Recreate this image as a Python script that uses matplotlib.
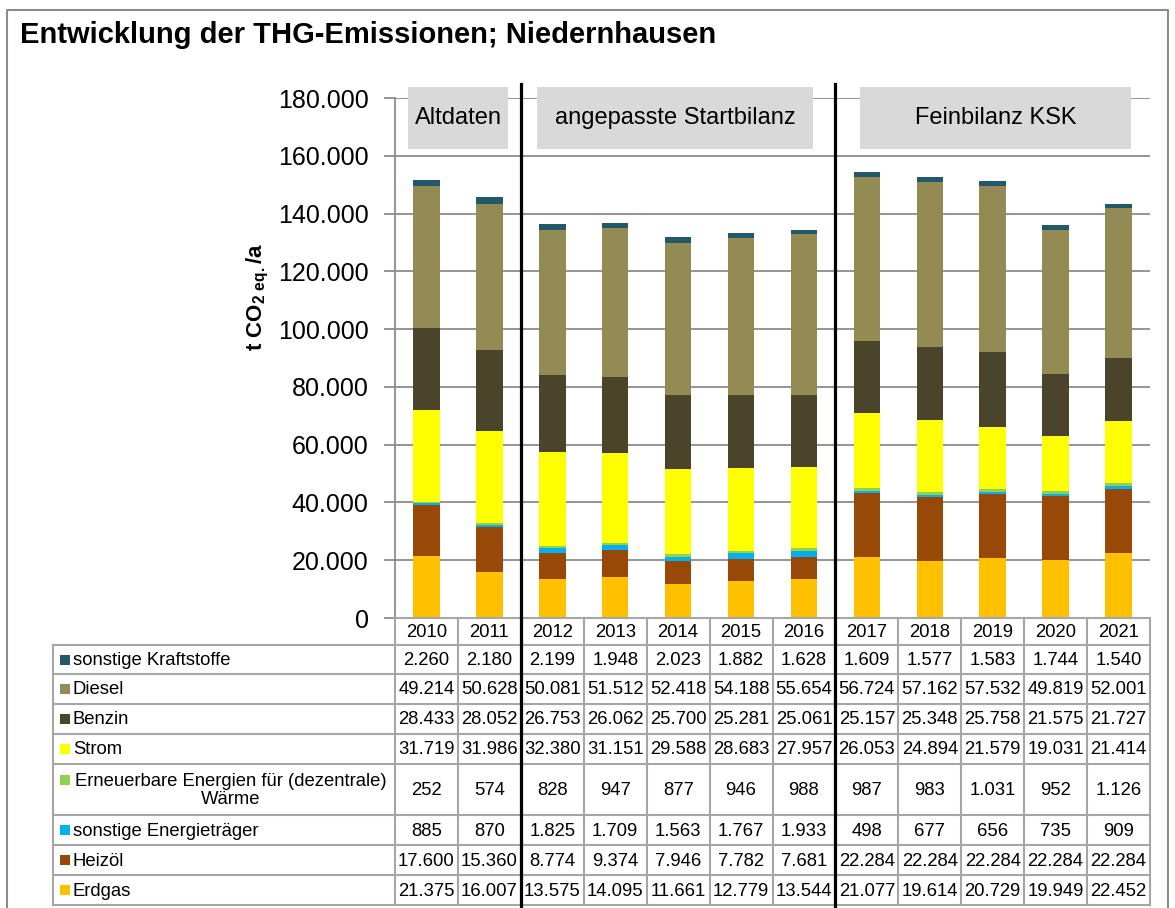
import numpy as np
import matplotlib
matplotlib.use("Agg")
import matplotlib.pyplot as plt
from matplotlib.patches import Rectangle

plt.rcParams['font.family'] = ['Liberation Sans', 'DejaVu Sans']
plt.rcParams['mathtext.fontset'] = 'custom'
plt.rcParams['mathtext.rm'] = 'Liberation Sans'
plt.rcParams['mathtext.bf'] = 'Liberation Sans:bold'

# data (t CO2eq per year), stacking order bottom -> top
years = [2010, 2011, 2012, 2013, 2014, 2015, 2016, 2017, 2018, 2019, 2020, 2021]
erdgas = [21375, 16007, 13575, 14095, 11661, 12779, 13544, 21077, 19614, 20729, 19949, 22452]
heizoel = [17600, 15360, 8774, 9374, 7946, 7782, 7681, 22284, 22284, 22284, 22284, 22284]
sonst_et = [885, 870, 1825, 1709, 1563, 1767, 1933, 498, 677, 656, 735, 909]
ee_waerme = [252, 574, 828, 947, 877, 946, 988, 987, 983, 1031, 952, 1126]
strom = [31719, 31986, 32380, 31151, 29588, 28683, 27957, 26053, 24894, 21579, 19031, 21414]
benzin = [28433, 28052, 26753, 26062, 25700, 25281, 25061, 25157, 25348, 25758, 21575, 21727]
diesel = [49214, 50628, 50081, 51512, 52418, 54188, 55654, 56724, 57162, 57532, 49819, 52001]
sonst_kraft = [2260, 2180, 2199, 1948, 2023, 1882, 1628, 1609, 1577, 1583, 1744, 1540]

series = [
    ("Erdgas", erdgas, "#FFC000"),
    ("Heizöl", heizoel, "#984807"),
    ("sonstige Energieträger", sonst_et, "#00B0F0"),
    ("Erneuerbare Energien für (dezentrale)\nWärme", ee_waerme, "#92D050"),
    ("Strom", strom, "#FFFF00"),
    ("Benzin", benzin, "#4A452A"),
    ("Diesel", diesel, "#948A54"),
    ("sonstige Kraftstoffe", sonst_kraft, "#215968"),
]

periods = ["Altdaten", "angepasste Startbilanz", "Feinbilanz KSK"]
breaks = [1.5, 6.5]

def de(v):
    return f"{v:,}".replace(",", ".")

W, H = 1175, 908
fig = plt.figure(figsize=(W / 100, H / 100), dpi=100)

# main chart area (pixel layout)
x0, x1 = 395, 1150
ytop, ybot = 98, 618
colw = (x1 - x0) / len(years)
ax = fig.add_axes([x0 / W, (H - ybot) / H, (x1 - x0) / W, (ybot - ytop) / H])

grid = "#8C8C8C"
x = np.arange(len(years))
bottom = np.zeros(len(years))
for name, vals, col in series:
    ax.bar(x, vals, width=0.42, bottom=bottom, color=col, zorder=3)
    bottom += np.array(vals)

ax.set_xlim(-0.5, len(years) - 0.5)
ax.set_ylim(0, 180000)
ax.set_yticks(np.arange(0, 180001, 20000))
ax.set_yticklabels([de(v) for v in range(0, 180001, 20000)])
ax.set_xticks([])
ax.tick_params(axis='y', length=8, color=grid, width=1.3, labelsize=18, pad=11)
ax.yaxis.grid(True, color=grid, lw=1.3, zorder=0)
for s in ["top", "right"]:
    ax.spines[s].set_visible(False)
for s in ["left", "bottom"]:
    ax.spines[s].set_color(grid)
    ax.spines[s].set_linewidth(1.3)

# overlay in pixel coords for frame, title, boxes and table
ov = fig.add_axes([0, 0, 1, 1], zorder=5)
ov.set_xlim(0, W)
ov.set_ylim(H, 0)
ov.axis('off')
ov.patch.set_alpha(0)

frame = "#8C8C8C"
ov.plot([7, 7, 1168, 1168], [H + 5, 10, 10, H + 5], color=frame, lw=1.5)
ov.text(20, 35, "Entwicklung der THG-Emissionen; Niedernhausen", fontsize=21,
        fontweight='bold', va='center', ha='left')
ov.text(258, 297, r"t CO$_{\mathbf{2\ eq.}}$/a", fontsize=16, fontweight='bold',
        rotation=90, ha='center', va='center')

# period boxes
box_geo = [(408, 508), (537, 813), (860, 1131)]
for label, (bx0, bx1) in zip(periods, box_geo):
    ov.add_patch(Rectangle((bx0, 87), bx1 - bx0, 62, facecolor="#D9D9D9", edgecolor='none'))
    ov.text((bx0 + bx1) / 2, 118, label, fontsize=17, ha='center', va='center')

# table
tcol = "#A6A6A6"
fs = 13.3
row_edges = [645, 674, 704, 734, 764, 815, 845, 875, 905]
lab_x0 = 53
ov.plot([x0, x1], [ybot, ybot], color=tcol, lw=1.5)
for i, yr in enumerate(years):
    ov.text(x0 + (i + 0.5) * colw, (ybot + row_edges[0]) / 2 + 1, str(yr),
            fontsize=fs, ha='center', va='center')
for i in range(len(years) + 1):
    ov.plot([x0 + i * colw] * 2, [ybot, row_edges[-1]], color=tcol, lw=1.5)
ov.plot([lab_x0, lab_x0], [row_edges[0], row_edges[-1]], color=tcol, lw=1.5)
for y in row_edges:
    ov.plot([lab_x0, x1], [y, y], color=tcol, lw=1.5)

for r, (name, vals, col) in enumerate(series[::-1]):
    ya, yb = row_edges[r], row_edges[r + 1]
    yc = (ya + yb) / 2 + 1
    if "\n" in name:
        ov.add_patch(Rectangle((60, ya + 11), 10, 10, facecolor=col, edgecolor='none'))
        ov.text(231, yc, name, fontsize=fs, ha='center', va='center',
                multialignment='center', linespacing=1.05)
    else:
        ov.add_patch(Rectangle((60, yc - 6), 10, 10, facecolor=col, edgecolor='none'))
        ov.text(73, yc, name, fontsize=fs, ha='left', va='center')
    for i, v in enumerate(vals):
        ov.text(x0 + (i + 0.5) * colw, yc, de(v), fontsize=fs, ha='center', va='center')

# period separators
for b in breaks:
    xb = x0 + (b + 0.5) * colw
    ov.plot([xb, xb], [84, H], color='black', lw=2.3)

fig.savefig("out.png", dpi=100)
